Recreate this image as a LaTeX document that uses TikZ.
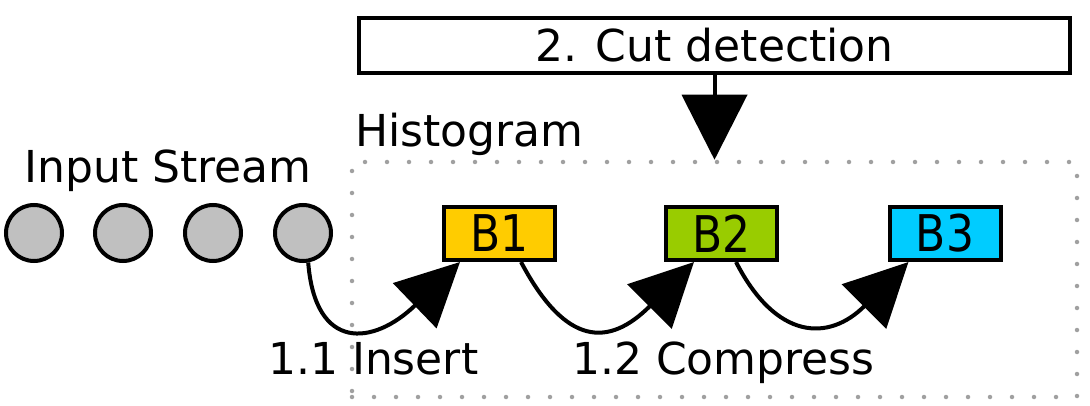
\documentclass[tikz,border=0pt]{standalone}
\usepackage{fontspec}
\setmainfont{DejaVu Sans}
\usetikzlibrary{arrows.meta}
\definecolor{bone}{HTML}{FFCC00}
\definecolor{btwo}{HTML}{99CC00}
\definecolor{bthree}{HTML}{00CCFF}
\definecolor{elem}{HTML}{C0C0C0}
\definecolor{dotgray}{HTML}{A0A0A0}
\tikzset{
  lbl/.style={inner sep=0pt, anchor=base west, font=\fontsize{44}{50}\selectfont},
  elemnode/.style={circle, draw=black, line width=4pt, fill=elem, minimum size=56pt, inner sep=0pt},
  binbox/.style={rectangle, draw=black, line width=4pt, minimum width=111pt, minimum height=53pt, inner sep=0pt, font=\fontsize{44}{50}\selectfont},
  histbox/.style={rectangle, draw=dotgray, line width=4.5pt, line cap=round, dash pattern=on 0pt off 22pt, minimum width=725pt, minimum height=235pt, inner sep=0pt},
  topbox/.style={rectangle, draw=black, line width=4.5pt, minimum width=711pt, minimum height=55pt, inner sep=0pt, font=\fontsize{44}{50}\selectfont},
  flow/.style={line width=4pt, -{Triangle[length=63pt,width=62pt]}},
}
\begin{document}
\begin{tikzpicture}[x=1pt,y=-1pt]
\useasboundingbox (0,0) rectangle (1090,406);
\node[histbox] (hist) at (714.5,279.5) {};
\node[lbl] (histlbl) at (355,147) {Histogram};
\node[lbl, anchor=base] (inlbl) at (168,183) {Input Stream};
\node[elemnode] (c1) at (34,233) {};
\node[elemnode] (c2) at (123,233) {};
\node[elemnode] (c3) at (213,233) {};
\node[elemnode] (c4) at (303,233) {};
\node[binbox, fill=bone] (b1) at (499.5,233.5) {\scalebox{1}[1.15]{B1}};
\node[binbox, fill=btwo] (b2) at (721.5,233.5) {\scalebox{1}[1.15]{B2}};
\node[binbox, fill=bthree] (b3) at (945,233.5) {\scalebox{1}[1.15]{B3}};
\node[topbox] (cut) at (714.5,45.5) {2. Cut detection};
\draw[line width=4pt, -{Triangle[length=65pt,width=65pt]}] (cut.south) -- (hist.north);
\draw[flow] (c4.-80) .. controls +(7,89) and +(-87,84) .. ([xshift=18pt]b1.south west);
\draw[flow] ([xshift=79pt]b1.south west) .. controls +(45,85) and +(-85,85) .. ([xshift=30pt]b2.south west);
\draw[flow] ([xshift=72pt]b2.south west) .. controls +(40,78) and +(-80,80) .. ([xshift=21pt]b3.south west);
\node[lbl] (ins) at (268,374) {1.1 Insert};
\node[lbl] (comp) at (572,374) {1.2 Compress};
\end{tikzpicture}
\end{document}
